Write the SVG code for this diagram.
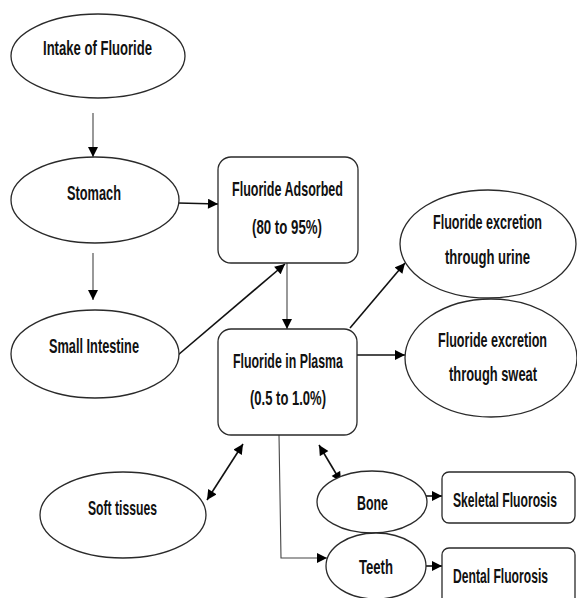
<svg xmlns="http://www.w3.org/2000/svg" width="577" height="598" viewBox="0 0 577 598">
<style>
.sh{fill:#fff;stroke:#2a2a2a;stroke-width:1.3}
.t{font-family:"Liberation Sans",Arial,sans-serif;font-weight:bold;font-size:21px;fill:#111;text-anchor:middle}
.c{fill:none;stroke:#111;stroke-width:1.6}
.thin{fill:none;stroke:#444;stroke-width:1.1}
</style>
<defs>
<marker id="ah" viewBox="0 0 10 10" refX="10" refY="5" markerWidth="11" markerHeight="10" markerUnits="userSpaceOnUse" orient="auto-start-reverse">
<path d="M0,0 L10,5 L0,10 Z" fill="#000"/>
</marker>
</defs>
<rect width="577" height="598" fill="#fff"/>
<g id="connectors">
<line class="thin" x1="93" y1="113" x2="93" y2="157" marker-end="url(#ah)"/>
<line class="thin" x1="93" y1="253" x2="93" y2="300" marker-end="url(#ah)"/>
<line class="c" x1="178" y1="203" x2="218" y2="204" marker-end="url(#ah)"/>
<line class="c" x1="178" y1="355" x2="285" y2="264" marker-end="url(#ah)"/>
<line class="thin" x1="287" y1="263" x2="287" y2="329" marker-end="url(#ah)"/>
<line class="c" x1="350" y1="328" x2="405" y2="263" marker-end="url(#ah)"/>
<line class="c" x1="357" y1="355" x2="405" y2="355" marker-end="url(#ah)"/>
<line class="c" x1="207" y1="500" x2="243" y2="444" marker-start="url(#ah)" marker-end="url(#ah)"/>
<line class="c" x1="319" y1="445" x2="341" y2="482" marker-start="url(#ah)" marker-end="url(#ah)"/>
<polyline class="thin" points="279,435 281,558 327,558" marker-end="url(#ah)"/>
<line class="c" x1="426" y1="496" x2="442" y2="496" marker-end="url(#ah)"/>
<line class="c" x1="425" y1="566" x2="442" y2="566" marker-end="url(#ah)"/>
</g>
<g id="intake"><ellipse class="sh" cx="98" cy="56" rx="87" ry="42"/><text class="t" x="97.5" y="55" textLength="109" lengthAdjust="spacingAndGlyphs">Intake of Fluoride</text></g>
<g id="stomach"><ellipse class="sh" cx="95" cy="200" rx="84" ry="43"/><text class="t" x="94" y="200" textLength="54" lengthAdjust="spacingAndGlyphs">Stomach</text></g>
<g id="small-intestine"><ellipse class="sh" cx="95" cy="354" rx="84" ry="44"/><text class="t" x="94" y="353" textLength="90" lengthAdjust="spacingAndGlyphs">Small Intestine</text></g>
<g id="soft-tissues"><ellipse class="sh" cx="123" cy="515" rx="83" ry="43"/><text class="t" x="122.5" y="515" textLength="69" lengthAdjust="spacingAndGlyphs">Soft tissues</text></g>
<g id="adsorbed"><rect class="sh" x="218" y="157" width="140" height="106" rx="13"/><text class="t" x="287.5" y="196" textLength="111" lengthAdjust="spacingAndGlyphs">Fluoride Adsorbed</text><text class="t" x="287" y="234" textLength="70" lengthAdjust="spacingAndGlyphs">(80 to 95%)</text></g>
<g id="plasma"><rect class="sh" x="218" y="329" width="139" height="106" rx="13"/><text class="t" x="288" y="368" textLength="110" lengthAdjust="spacingAndGlyphs">Fluoride in Plasma</text><text class="t" x="288" y="405" textLength="76" lengthAdjust="spacingAndGlyphs">(0.5 to 1.0%)</text></g>
<g id="urine"><ellipse class="sh" cx="488" cy="244" rx="88" ry="54"/><text class="t" x="487.5" y="229" textLength="109" lengthAdjust="spacingAndGlyphs">Fluoride excretion</text><text class="t" x="487.5" y="264" textLength="85" lengthAdjust="spacingAndGlyphs">through urine</text></g>
<g id="sweat"><ellipse class="sh" cx="491" cy="358" rx="86" ry="59"/><text class="t" x="492.5" y="347" textLength="109" lengthAdjust="spacingAndGlyphs">Fluoride excretion</text><text class="t" x="493" y="381" textLength="88" lengthAdjust="spacingAndGlyphs">through sweat</text></g>
<g id="bone"><ellipse class="sh" cx="372" cy="502" rx="55" ry="31"/><text class="t" x="372.5" y="510" textLength="31" lengthAdjust="spacingAndGlyphs">Bone</text></g>
<g id="teeth"><ellipse class="sh" cx="376" cy="566" rx="50" ry="33"/><text class="t" x="376" y="574" textLength="34" lengthAdjust="spacingAndGlyphs">Teeth</text></g>
<g id="skeletal"><rect class="sh" x="442" y="472" width="133" height="51" rx="7"/><text class="t" x="505" y="507" textLength="104" lengthAdjust="spacingAndGlyphs">Skeletal Fluorosis</text></g>
<g id="dental"><rect class="sh" x="442" y="548" width="133" height="58" rx="7"/><text class="t" x="500.5" y="583" textLength="95" lengthAdjust="spacingAndGlyphs">Dental Fluorosis</text></g>
</svg>
